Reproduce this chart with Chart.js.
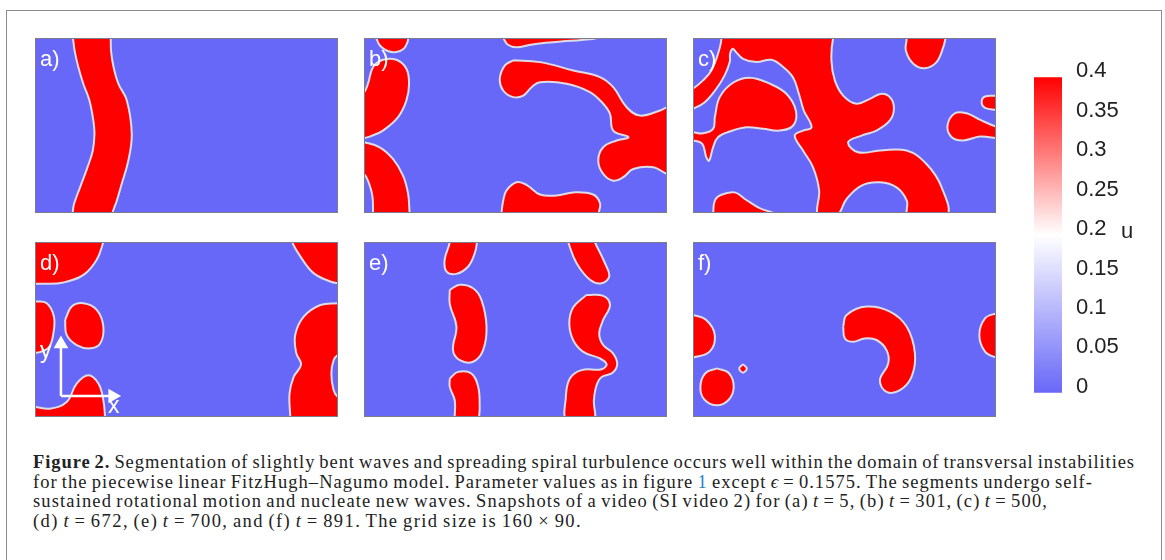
<!DOCTYPE html>
<html>
<head>
<meta charset="utf-8">
<script src="https://cdn.jsdelivr.net/npm/chart.js@4.4.1/dist/chart.umd.min.js"></script>
<style>
  body { margin: 0; background: #fff; width: 1165px; height: 560px; overflow: hidden; position: relative; font-family: 'Liberation Sans', Arial, sans-serif; }
  #frame { position: absolute; left: 6px; top: 10px; width: 1154px; height: 600px; border: 1px solid #8c8c8c; border-bottom: none; }
  .panel { position: absolute; width: 303px; height: 175px; }
  .panel canvas { position: absolute; left: 0; top: 0; }
  .plabel { position: absolute; left: 5px; top: 10px; color: #fff; font-size: 22px; line-height: 22px; }
  .axlbl { position: absolute; color: #fff; font-size: 23px; line-height: 23px; }
  #cbar { position: absolute; left: 1020px; top: 50px; }
  #ulabel { position: absolute; left: 1121px; top: 220px; font-size: 22px; line-height: 22px; color: #222; }
  .cap { position: absolute; left: 33px; white-space: nowrap; font-family: 'Liberation Serif', 'Times New Roman', serif; font-size: 18.5px; line-height: 20px; word-spacing: -1.5px; color: #222; }
  .cap i { font-style: italic; }
  .lnk { color: #2a7fc0; }
</style>
</head>
<body>
<div id="frame"></div>

<div class="panel" style="left:35px;top:38px"><canvas id="pa" width="303" height="175"></canvas><span class="plabel">a)</span></div>
<div class="panel" style="left:364px;top:38px"><canvas id="pb" width="303" height="175"></canvas><span class="plabel">b)</span></div>
<div class="panel" style="left:693px;top:38px"><canvas id="pc" width="303" height="175"></canvas><span class="plabel">c)</span></div>
<div class="panel" style="left:35px;top:242px"><canvas id="pd" width="303" height="175"></canvas><span class="plabel">d)</span>
  <span class="axlbl" style="left:5px;top:97px">y</span>
  <span class="axlbl" style="left:73px;top:152px">x</span>
</div>
<div class="panel" style="left:364px;top:242px"><canvas id="pe" width="303" height="175"></canvas><span class="plabel">e)</span></div>
<div class="panel" style="left:693px;top:242px"><canvas id="pf" width="303" height="175"></canvas><span class="plabel">f)</span></div>

<canvas id="cbar" width="140" height="370"></canvas>
<span id="ulabel">u</span>

<div class="cap" style="top:452px" data-w="1102"><b>Figure 2.</b> Segmentation of slightly bent waves and spreading spiral turbulence occurs well within the domain of transversal instabilities</div>
<div class="cap" style="top:472px" data-w="1060">for the piecewise linear FitzHugh–Nagumo model. Parameter values as in figure <span class="lnk">1</span> except <i>ϵ</i> = 0.1575. The segments undergo self-</div>
<div class="cap" style="top:491px" data-w="1015">sustained rotational motion and nucleate new waves. Snapshots of a video (SI video 2) for (a) <i>t</i> = 5, (b) <i>t</i> = 301, (c) <i>t</i> = 500,</div>
<div class="cap" style="top:511px" data-w="549">(d) <i>t</i> = 672, (e) <i>t</i> = 700, and (f) <i>t</i> = 891. The grid size is 160 × 90.</div>

<script>
// grid is 160 x 90, outlines of the excited (red) regions, points as [x, y]
const blobsA = [
  [[19.5,92],[20,90],[21,83],[22.9,75],[25.5,66.5],[28.7,58],[30.8,47.6],[31.4,40.7],[30.5,32],[27.7,23.5],[23.8,13.2],[20.6,4.6],[19.9,0],[19.8,-2],
   [40.9,-2],[40.9,0],[43.2,6.3],[45.8,15],[49.3,27],[51.1,40.7],[48.5,57.9],[44,66.5],[41.5,75],[40.2,83],[40,90],[40,92]]
];

const blobsB = [
  [[6,92],[6.5,90],[8.5,86],[12.5,83.3],[17,82.8],[21,84.5],[23,88],[23.3,90],[23.5,92]],
  [[-2,62],[0,62],[2.1,66.5],[4.8,75.1],[10,78.8],[17.1,78.8],[22.4,74.2],[23.8,66.5],[22.4,57.9],[18,49.3],[10,42.4],[3,39.3],[0,38.6],[-2,38.6]],
  [[-2,36.4],[0,36.4],[8.3,33.8],[15.3,27.8],[20.6,19.2],[23.3,9.8],[24.1,0],[24.5,-2],[4.8,-2],[4.8,0],[4.4,8.9],[2.1,16.6],[0,20.1],[-2,20]],
  [[72,92],[73.5,90],[76,86.5],[80.5,85.2],[88,86.5],[96,87.5],[105,88.3],[115,89],[123,90],[123.5,92]],
  [[78.8,78.5],[92.9,77.6],[110.5,73.3],[124.6,69.9],[131.6,64.7],[138.7,54.4],[145.7,50.1],[156.3,52.7],[160,54.4],[163,55],[163,20],[160,20.1],
   [152.8,23.5],[142.2,22.6],[136.9,18.4],[131.6,16.6],[126.3,20.1],[123.7,26.9],[126.3,33.8],[133.4,37.3],[139.6,39],[131.6,42.4],[129.9,51],
   [126.3,56.2],[119.3,62.2],[107,66.5],[92.9,67.3],[88.5,64.7],[84.1,60.4],[78.8,59.6],[73.5,63],[71.7,69],[74.4,75.9]],
  [[72.5,-2],[72.6,0],[73.5,6.3],[75.2,11.5],[80.5,15.8],[85.8,14.5],[92.9,9.5],[101.7,9],[110.5,10.6],[121,9.5],[124.6,5],[124,0],[124,-2]]
];

const blobsC = [
  [[13.5,91.5],[75.8,91.5],[74,90],[73.1,78.5],[74.9,68.2],[79.3,60.4],[86.3,56.2],[93.4,58.7],[99.6,61.3],[104.3,59.2],[106.1,53.6],[104,47.6],
   [96.9,42.4],[89,39.8],[81.9,36.4],[87.2,31.2],[98.7,32.1],[112.8,32.1],[123.3,25.2],[131.3,13.2],[133.9,-1.4],[113.7,-1.4],[112.9,6.3],
   [107.5,13.2],[98.7,15.8],[89,14.1],[81.1,7.2],[75.8,-1.4],[66.1,-1.4],[66.6,11.5],[63.4,23.5],[58.1,32.1],[53.7,39.8],[58.1,42.4],[62.6,44.1],
   [58.5,52.7],[55.9,61.3],[52.9,69.6],[47.6,75.1],[41.4,78.8],[33.5,77.6],[26.4,79.3],[22.5,83],[21,84.5],[19.6,82],[19.4,77.6],[16.7,70.8],
   [12.3,63.9],[6.2,57],[0,53.6],[-2,53],[-2,63],[0,63.9],[5.3,68.2],[9.7,73.3],[13.2,81.9],[15,90]],
  [[11.5,49.3],[14.1,59.6],[21.1,67],[30,69.6],[40.5,66.5],[49.3,61.3],[54.3,52.7],[52.9,45],[45.8,42.4],[37,43.3],[28.2,44.1],[19.4,41.9],
   [13.2,39],[10.6,33.8],[8.5,26.9],[7,28.7],[4.9,35.5],[0,37.3],[-2,37.3],[-2,41.5],[0,41.5],[5.3,41],[10.6,43.3]],
  [[111.9,91.4],[112.8,90],[112.4,83.6],[116.3,76.8],[122.5,74.5],[128.6,77.6],[132.2,85.4],[133.4,90],[133.9,91.4]],
  [[161.2,60.4],[160,60.3],[154.2,59.9],[152.4,57],[154.2,54.1],[160,53.1],[161.2,53.1]],
  [[161.2,45],[160,44.5],[151.5,48],[144.5,51.3],[138.3,51.3],[134.4,45],[136.6,39],[142.7,37.3],[151.5,39.3],[160,38.6],[161.2,38.6]],
  [[10.6,-1.4],[11.5,6.3],[15,9.4],[22,10.6],[28.2,6.7],[35.2,2.5],[45.8,-1.4]]
];

const blobsD = [
  [[-2,92],[36.5,92],[36.1,90],[32.6,80.9],[25.6,73.1],[15,69.2],[4.4,68.5],[0,68.5],[-2,68.5]],
  [[-2,59.4],[0,59.4],[6.2,58.5],[10,51.6],[9.7,43],[7.5,36],[3,33.5],[0,33],[-2,33]],
  [[15.9,49.9],[19.4,56.8],[25.6,58.5],[32.6,55.1],[36.1,46.5],[34.4,37.8],[29.1,35.3],[22,37],[16.7,42.2]],
  [[-2,5],[0,5.1],[7.9,4.3],[16.7,7.7],[22,17.2],[28.2,21.5],[33.5,17.2],[36.1,8.6],[37,0],[37,-2],[-2,-2]],
  [[135.5,92],[135.7,90],[140.1,82.6],[147.1,74],[155.9,69.7],[160,68.8],[162,68.8],[162,92]],
  [[162,58.5],[160,58.5],[150.7,57.6],[141.9,51.6],[137.4,42.2],[138,32.7],[140.5,27],[136.6,20.6],[134.4,12],[134.8,0],[134.8,-2],
   [162,-2],[162,10.3],[160,10.3],[157.7,13.8],[156.5,22.4],[157.7,29.2],[160,32],[162,32]]
];

const blobsE = [
  [[44.5,92],[45.3,90],[42.6,80.9],[43.5,74.9],[48.8,73.6],[55,77.4],[58.5,84.3],[59.7,90],[60,92]],
  [[45.3,65.4],[50.6,68],[57.6,66.2],[62,60.2],[64.7,46.5],[62.9,34.4],[57.6,28.4],[50.6,29.2],[47,34.4],[48.8,46.5],[45.3,58]],
  [[45.3,19.8],[49.7,23.2],[56.7,22.4],[60.3,15.5],[61.1,5.2],[60.8,0],[60.8,-2],[47.9,-2],[47.9,0],[47.9,8.6],[45.3,15.5]],
  [[107.5,92],[107.8,90],[112.2,79.2],[119.3,70.6],[125.5,68.8],[129.5,72.3],[127.2,79.2],[121.9,90],[121.5,92]],
  [[117.5,62.8],[126.3,62.3],[129.9,57.6],[126.3,49.9],[124.2,43],[126.3,37],[131.3,33],[133.7,27.5],[131.3,22.7],[125.5,20.6],[122.8,16.3],
   [121.4,8.6],[121.1,-2],[107.3,-2],[106.6,10.3],[108.7,19.8],[114.9,24.1],[125.5,24.6],[128.1,27.2],[124.6,30.1],[115.8,33.5],[110.5,39.5],
   [108.4,48.2],[110.5,56.4]]
];

const blobsF = [
  [[-2,52.5],[0,52.5],[7,49.9],[11.5,42.2],[8.8,33.6],[0,30.6],[-2,30.6]],
  [[12.7,25],[19,22.5],[21.5,15.5],[19,9],[12.7,6],[6,9],[3.9,15.5],[6.5,22.5]],
  [[26.4,27.2],[28.4,25],[26.4,22.8],[24.4,25]],
  [[79.3,46.5],[81.1,52.5],[91.6,56.8],[104,54.2],[112.8,46.5],[117.2,32.7],[115.4,20.6],[109.3,13.8],[102.2,12.9],[98.7,18.9],[103.1,27.5],
   [102.2,34.4],[96.9,39.6],[90.7,40.4],[84.6,38.7],[80.2,40.4]],
  [[162,53.3],[160,53.3],[154.2,50.7],[151.2,42.2],[154.2,33.6],[160,30.6],[162,30.6]]
];

// coordinate arrows drawn in panel d
const arrowY = [[13.7,10.8],[13.7,37.5]];
const arrowX = [[13.7,10.8],[41,10.8]];

// colour bar
const cbTicks = [0, 0.05, 0.1, 0.15, 0.2, 0.25, 0.3, 0.35, 0.4];
const cbLabels = ['0', '0.05', '0.1', '0.15', '0.2', '0.25', '0.3', '0.35', '0.4'];
const cbStops = [[0, '#6868f8'], [0.2, '#ffffff'], [0.4, '#ff0000']];

const RED = '#ff0000';
const BLUE = '#6868f8';
const EDGE = '#dcdce6';

const panelBg = {
  id: 'panelBg',
  beforeDraw(chart) {
    const {ctx, chartArea: a} = chart;
    ctx.save();
    ctx.fillStyle = BLUE;
    ctx.fillRect(a.left, a.top, a.width, a.height);
    ctx.restore();
  },
  afterDraw(chart) {
    const {ctx, chartArea: a} = chart;
    ctx.save();
    ctx.strokeStyle = '#7c7c8c';
    ctx.lineWidth = 1;
    ctx.strokeRect(a.left + 0.5, a.top + 0.5, a.width - 1, a.height - 1);
    ctx.restore();
  }
};

function toPoints(pts, close) {
  const out = pts.map(p => ({x: p[0], y: p[1]}));
  if (close) out.push({x: pts[0][0], y: pts[0][1]});
  return out;
}

function arrowSet(pts, rot) {
  return {
    data: toPoints(pts, false),
    showLine: true,
    fill: false,
    borderColor: '#fff',
    borderWidth: 2.5,
    tension: 0,
    pointRadius: [0, 6],
    pointStyle: 'triangle',
    pointRotation: rot,
    pointBackgroundColor: '#fff',
    pointBorderColor: '#fff'
  };
}

function drawPanel(id, blobs, extra) {
  const datasets = (extra || []).concat(blobs.map(b => ({
    data: toPoints(b, true),
    showLine: true,
    fill: 'shape',
    backgroundColor: RED,
    borderColor: EDGE,
    borderWidth: 2,
    pointRadius: 0,
    tension: 0.4
  })));
  new Chart(document.getElementById(id), {
    type: 'scatter',
    data: { datasets: datasets },
    options: {
      responsive: false,
      animation: false,
      events: [],
      layout: { padding: 0, autoPadding: false },
      plugins: { legend: { display: false }, tooltip: { enabled: false } },
      scales: {
        x: { type: 'linear', min: 0, max: 160, display: false },
        y: { type: 'linear', min: 0, max: 90, display: false }
      }
    },
    plugins: [panelBg]
  });
}

drawPanel('pa', blobsA);
drawPanel('pb', blobsB);
drawPanel('pc', blobsC);
drawPanel('pd', blobsD, [arrowSet(arrowY, 0), arrowSet(arrowX, 90)]);
drawPanel('pe', blobsE);
drawPanel('pf', blobsF);

new Chart(document.getElementById('cbar'), {
  type: 'bar',
  data: {
    labels: ['u'],
    datasets: [{
      data: [0.4],
      barPercentage: 1,
      categoryPercentage: 1,
      backgroundColor: ctx => {
        const chart = ctx.chart;
        const y = chart.scales.y;
        if (!chart.chartArea || !y) return RED;
        const g = chart.ctx.createLinearGradient(0, y.getPixelForValue(0), 0, y.getPixelForValue(0.4));
        cbStops.forEach(s => g.addColorStop(s[0] / 0.4, s[1]));
        return g;
      }
    }]
  },
  options: {
    responsive: false,
    animation: false,
    events: [],
    layout: { padding: { left: 14, top: 26, bottom: 19, right: 0 }, autoPadding: false },
    plugins: { legend: { display: false }, tooltip: { enabled: false } },
    scales: {
      x: { display: false },
      y: {
        position: 'right',
        min: 0,
        max: 0.4,
        afterFit: s => { s.width = 98; },
        afterBuildTicks: s => { s.ticks = cbTicks.map(v => ({ value: v })); },
        grid: { display: false, drawTicks: false },
        border: { display: false },
        ticks: {
          padding: 14,
          labelOffset: -6,
          color: '#222',
          font: { family: 'Liberation Sans', size: 22 },
          callback: (v, i) => cbLabels[i]
        }
      }
    }
  }
});

// fit each caption line to the width it has in the printed figure
document.querySelectorAll('.cap').forEach(el => {
  const target = +el.dataset.w;
  const natural = el.getBoundingClientRect().width;
  const n = el.textContent.length;
  el.style.letterSpacing = ((target - natural) / n).toFixed(3) + 'px';
});
</script>
</body>
</html>
